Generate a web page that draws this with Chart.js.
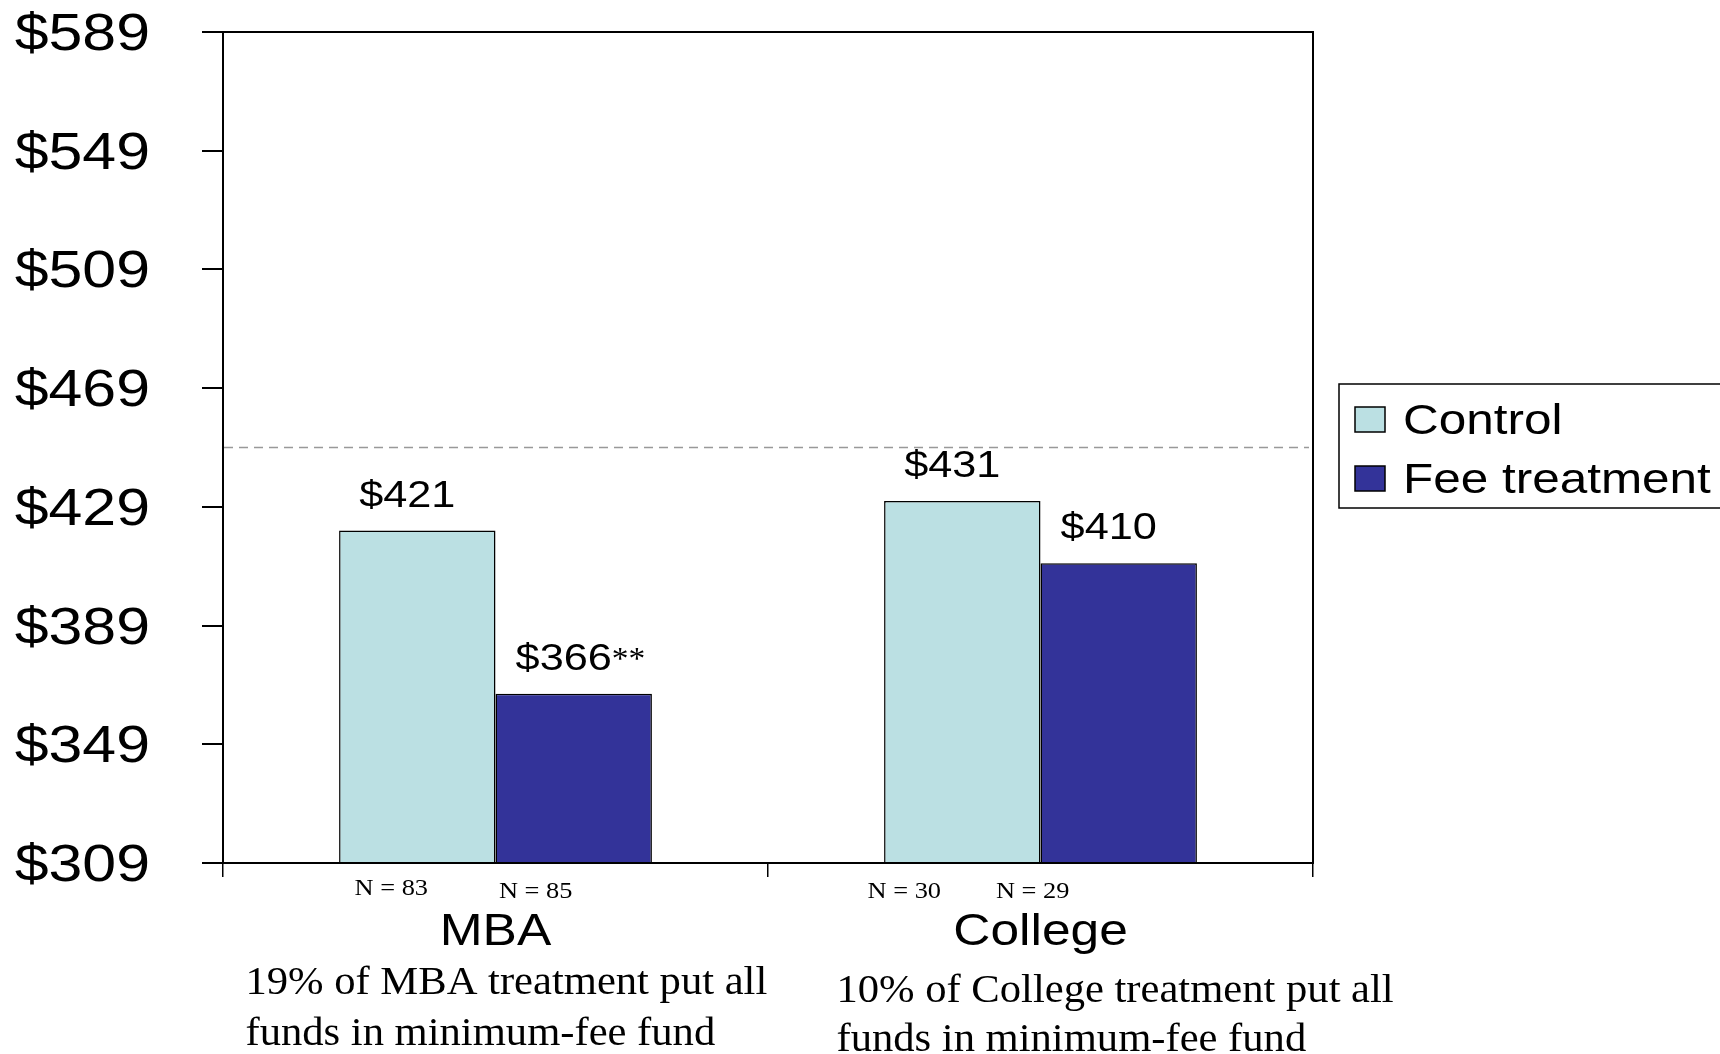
<!DOCTYPE html>
<html lang="en">

<head>
  <meta charset="UTF-8">
  <title>Fees paid: Control vs Fee treatment</title>
  <style>
    body {
      margin: 0;
      background-color: #fff;
    }

    #wrap {
      width: 1720px;
      height: 1054px;
    }
  </style>
  <script src="https://cdn.jsdelivr.net/npm/chart.js"></script>
</head>

<body>
  <div id="wrap"><canvas id="feesChart" width="1720" height="1054"></canvas></div>

  <script>
    // Data
    const categories = ['MBA', 'College'];
    const seriesNames = ['Control', 'Fee treatment'];
    const controlValues = [421, 431];
    const feeValues = [366, 410];
    const feeStars = ['**', ''];
    const controlN = [83, 30];
    const feeN = [85, 29];
    const yTickValues = [309, 349, 389, 429, 469, 509, 549, 589];
    const referenceFee = 449;
    const notes = [
      ['19% of MBA treatment put all', 'funds in minimum-fee fund'],
      ['10% of College treatment put all', 'funds in minimum-fee fund']
    ];

    // Look
    const SANS = '"Liberation Sans", Arial, sans-serif';
    const SERIF = '"Liberation Serif", "Times New Roman", serif';
    const SANS_STRETCH = 1.17;
    const colors = ['#BBE0E3', '#333399'];

    // hand-placed text offsets (px)
    const nShift = [[-26, -58], [-38, -86]];
    const nBaseline = [[895, 898], [898, 898]];
    const noteLeft = [-250, -204];
    const noteBaselines = [[994, 1045], [1002, 1051]];

    function drawText(ctx, text, x, y, font, align, sx) {
      ctx.save();
      ctx.font = font;
      ctx.fillStyle = '#000';
      ctx.textAlign = align;
      ctx.textBaseline = 'alphabetic';
      ctx.translate(x, y);
      ctx.scale(sx, 1);
      ctx.fillText(text, 0, 0);
      ctx.restore();
    }

    // dashed reference line across the plot
    const referenceLine = {
      id: 'referenceLine',
      afterDatasetsDraw(chart) {
        const { ctx, chartArea } = chart;
        const y = chart.scales.y.getPixelForValue(referenceFee);
        ctx.save();
        ctx.strokeStyle = '#999';
        ctx.lineWidth = 1.5;
        ctx.setLineDash([9, 6]);
        ctx.beginPath();
        ctx.moveTo(chartArea.left + 1, y);
        ctx.lineTo(chartArea.right - 4, y);
        ctx.stroke();
        ctx.restore();
      }
    };

    // frame, labels, notes and legend
    const annotations = {
      id: 'annotations',
      afterDraw(chart) {
        const { ctx, chartArea } = chart;
        const xs = chart.scales.x;
        const ys = chart.scales.y;

        ctx.save();
        ctx.strokeStyle = '#000';
        ctx.lineWidth = 2;
        ctx.strokeRect(chartArea.left, chartArea.top, chartArea.right - chartArea.left, chartArea.bottom - chartArea.top);
        ctx.restore();

        // y tick labels
        ys.ticks.forEach(t => {
          const y = ys.getPixelForValue(t.value);
          drawText(ctx, '$' + t.value, 150, y + 18, '52px ' + SANS, 'right', SANS_STRETCH);
        });

        // value labels and sample sizes
        const counts = [controlN, feeN];
        chart.data.datasets.forEach((ds, d) => {
          chart.getDatasetMeta(d).data.forEach((bar, i) => {
            const cx = bar.x - 10;
            const by = bar.y - 24;
            const label = '$' + ds.data[i];
            const stars = d === 1 ? feeStars[i] : '';
            drawText(ctx, label, cx, by, '37px ' + SANS, 'center', SANS_STRETCH);
            if (stars) {
              ctx.save();
              ctx.font = '37px ' + SANS;
              const w = ctx.measureText(label).width * SANS_STRETCH;
              ctx.restore();
              drawText(ctx, stars, cx + w / 2, by - 1, '31px ' + SERIF, 'left', 1.08);
            }
            drawText(ctx, 'N = ' + counts[d][i], bar.x + nShift[d][i], nBaseline[d][i], '24px ' + SERIF, 'center', 1.1);
          });
        });

        // category names and notes
        categories.forEach((c, i) => {
          const cx = xs.getPixelForValue(i);
          drawText(ctx, c, cx, 945, '44px ' + SANS, 'center', SANS_STRETCH);
          notes[i].forEach((line, k) => {
            drawText(ctx, line, cx + noteLeft[i], noteBaselines[i][k], '40px ' + SERIF, 'left', 1.065);
          });
        });

        // legend
        ctx.save();
        ctx.strokeStyle = '#000';
        ctx.lineWidth = 1.5;
        ctx.strokeRect(1339, 384, 420, 124);
        chart.data.datasets.forEach((ds, d) => {
          const top = d === 0 ? 407 : 466;
          ctx.fillStyle = ds.backgroundColor;
          ctx.fillRect(1355, top, 30, 25);
          ctx.strokeRect(1355, top, 30, 25);
          drawText(ctx, ds.label, 1403, d === 0 ? 434 : 493, '43px ' + SANS, 'left', 1.15);
        });
        ctx.restore();
      }
    };

    const ctx = document.getElementById('feesChart').getContext('2d');
    new Chart(ctx, {
      type: 'bar',
      data: {
        labels: categories,
        datasets: [{
          label: seriesNames[0],
          data: controlValues,
          backgroundColor: colors[0],
          borderColor: '#000',
          borderWidth: 1.5
        }, {
          label: seriesNames[1],
          data: feeValues,
          backgroundColor: colors[1],
          borderColor: '#000',
          borderWidth: 1.5
        }]
      },
      options: {
        responsive: false,
        animation: false,
        devicePixelRatio: 1,
        layout: {
          padding: { left: 223, top: 32, right: 407, bottom: 191 }
        },
        datasets: {
          bar: { barPercentage: 1, categoryPercentage: 0.574 }
        },
        plugins: {
          legend: { display: false },
          tooltip: { enabled: false }
        },
        scales: {
          x: {
            offset: true,
            grid: { offset: true, drawOnChartArea: false, color: '#000', lineWidth: 1.5, tickLength: 14 },
            border: { color: '#000', width: 2 },
            ticks: { display: false },
            afterFit: s => { s.height = 0; }
          },
          y: {
            min: 309,
            max: 589,
            afterBuildTicks: s => { s.ticks = yTickValues.map(v => ({ value: v })); },
            grid: { drawOnChartArea: false, color: '#000', lineWidth: 2, tickLength: 21 },
            border: { color: '#000', width: 2 },
            ticks: { display: false },
            afterFit: s => { s.width = 0; }
          }
        }
      },
      plugins: [referenceLine, annotations]
    });
  </script>
</body>

</html>
